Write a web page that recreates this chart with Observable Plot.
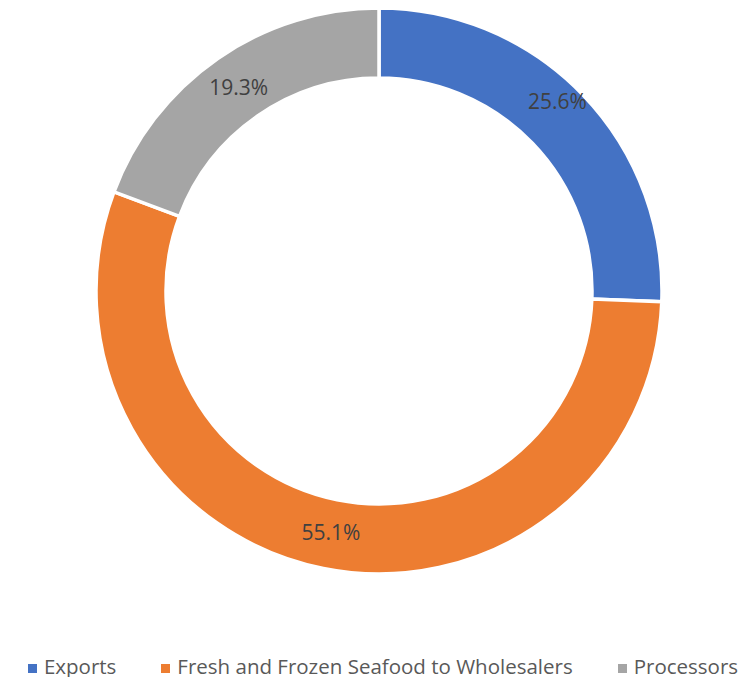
<!DOCTYPE html>
<html>
<head>
<meta charset="utf-8">
<script src="https://cdn.jsdelivr.net/npm/d3@7"></script>
<script src="https://cdn.jsdelivr.net/npm/@observablehq/plot@0.6"></script>
<style>
  html, body { margin: 0; padding: 0; background: #fff; }
  #chart svg { display: block; }
  #legend { display: flex; justify-content: center; gap: 45px; font-family: "Open Sans", sans-serif; font-size: 20.5px; color: #595959; margin-top: 55px; line-height: 22px; height: 22px; padding-left: 10px; }
  #legend span.item { display: flex; align-items: center; white-space: nowrap; }
  #legend span.sw { width: 9px; height: 9px; margin-right: 7px; display: inline-block; position: relative; top: 2px; }
</style>
</head>
<body>
<div id="chart"></div>
<div id="legend"></div>
<script>
const categories = ["Exports", "Fresh and Frozen Seafood to Wholesalers", "Processors"];
const values = [25.6, 55.1, 19.3];
const labels = ["25.6%", "55.1%", "19.3%"];
const colors = ["#4472C4", "#ED7D31", "#A5A5A5"];

const data = categories.map((c, i) => ({category: c, value: values[i], label: labels[i]}));

const W = 756, H = 600;
const outerR = 283, innerR = 213;
const pieLayout = d3.pie().sort(null).value(d => d.value)(data);
const midR = (outerR + innerR) / 2 - 1;
const labelData = pieLayout.map(p => {
  const a = (p.startAngle + p.endAngle) / 2;
  return {label: p.data.label, category: p.data.category, x: midR * Math.sin(a), y: midR * Math.cos(a)};
});

function donut(index, scales, values_, dims, context) {
  const cx = scales.x(0), cy = scales.y(0);
  const k = scales.x(1) - scales.x(0);
  const arc = d3.arc().innerRadius(innerR * k).outerRadius(outerR * k);
  const g = d3.create("svg:g").attr("transform", `translate(${cx},${cy})`);
  g.selectAll("path").data(pieLayout).join("path")
    .attr("d", arc)
    .attr("fill", d => scales.color(d.data.category))
    .attr("stroke", "white")
    .attr("stroke-width", 3.5)
    .attr("stroke-linejoin", "miter");
  return g.node();
}

const plot = Plot.plot({
  width: W, height: H,
  margin: 0,
  x: {domain: [-379, 377], axis: null},
  y: {domain: [-309, 291], axis: null},
  color: {domain: categories, range: colors},
  marks: [
    donut,
    Plot.text(labelData.filter((d, i) => i !== 0), {x: "x", y: "y", text: "label", fill: "#404040", fontSize: 21, fontFamily: "Open Sans, sans-serif"}),
    Plot.text(labelData.filter((d, i) => i === 0), {x: "x", y: "y", text: "label", fill: "#404040", fontSize: 21, fontFamily: "Open Sans, sans-serif", dy: -18})
  ]
});
document.getElementById("chart").appendChild(plot);

const legend = document.getElementById("legend");
categories.forEach((c, i) => {
  const item = document.createElement("span");
  item.className = "item";
  const sw = document.createElement("span");
  sw.className = "sw";
  sw.style.background = colors[i];
  item.appendChild(sw);
  item.appendChild(document.createTextNode(c));
  legend.appendChild(item);
});
</script>
</body>
</html>
